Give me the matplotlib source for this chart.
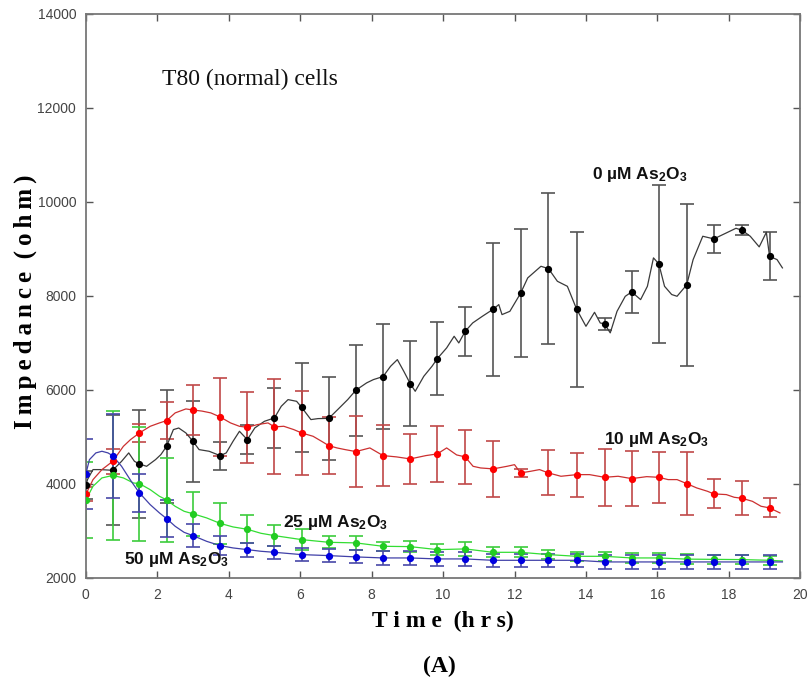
import matplotlib
matplotlib.use("Agg")
import matplotlib.pyplot as plt

plt.rcParams['mathtext.fontset'] = 'custom'
plt.rcParams['mathtext.rm'] = 'Liberation Sans:bold'
plt.rcParams['mathtext.it'] = 'Liberation Sans:bold'
plt.rcParams['mathtext.bf'] = 'Liberation Sans:bold'
plt.rcParams['mathtext.default'] = 'rm'

# ---- marker times (hrs) shared by all series ----
t_marks = [0, 0.75, 1.5, 2.26, 3.0, 3.76, 4.52, 5.28, 6.04, 6.8, 7.56, 8.32, 9.08,
           9.84, 10.62, 11.4, 12.17, 12.95, 13.74, 14.52, 15.28, 16.04, 16.82,
           17.58, 18.37, 19.14]

# ---- 0 uM (black) ----
black_mark = [3970, 4290, 4425, 4800, 4905, 4602, 4942, 5405, 5630, 5395, 5995, 6285,
              6135, 6667, 7248, 7716, 8057, 8582, 7716, 7405, 8086, 8682, 8235,
              9214, 9397, 8844]
black_err = [300, 1170, 1150, 1200, 870, 300, 310, 640, 940, 880, 970, 1120,
             900, 780, 520, 1420, 1360, 1600, 1650, 125, 440, 1680, 1720,
             300, 110, 510]
black_t = [0, 0.05, 0.2, 0.4, 0.75, 1.0, 1.2, 1.36, 1.5, 1.7, 1.95, 2.1, 2.26, 2.45,
           2.6, 2.8, 3.0, 3.17, 3.45, 3.76, 3.93, 4.12, 4.3, 4.52, 4.73, 5.0, 5.28,
           5.47, 5.66, 5.9, 6.04, 6.3, 6.5, 6.8, 7.05, 7.33, 7.56, 7.86, 8.05, 8.32,
           8.53, 8.72, 8.9, 9.08, 9.22, 9.46, 9.69, 9.84, 10.1, 10.31, 10.44, 10.62,
           10.83, 11.1, 11.4, 11.56, 11.65, 11.87, 12.17, 12.37, 12.74, 12.95, 13.2,
           13.48, 13.74, 14.0, 14.24, 14.4, 14.52, 14.68, 14.87, 15.1, 15.28, 15.53,
           15.72, 15.89, 16.04, 16.2, 16.4, 16.55, 16.82, 17.0, 17.27, 17.58, 17.93,
           18.2, 18.37, 18.6, 18.85, 19.05, 19.14, 19.35, 19.5]
black_v = [3970, 4100, 4305, 4305, 4290, 4481, 4660, 4481, 4425, 4375, 4517, 4624, 4800,
           5156, 5190, 5085, 4905, 4730, 4695, 4602, 4660, 4907, 5120, 4942, 5192,
           5333, 5405, 5652, 5794, 5758, 5630, 5369, 5390, 5395, 5582, 5794, 5995,
           6150, 6220, 6285, 6503, 6645, 6397, 6135, 5971, 6290, 6503, 6667, 6894,
           7142, 7000, 7248, 7426, 7567, 7716, 7816, 7603, 7673, 8057, 8384, 8631,
           8582, 8312, 8205, 7716, 7354, 7652, 7425, 7405, 7214, 7673, 7992, 8086,
           7922, 8205, 8810, 8682, 8205, 8030, 7993, 8235, 8773, 9270, 9214, 9341,
           9440, 9397, 9270, 9044, 9354, 8844, 8773, 8597]

# ---- 10 uM (red) ----
red_mark = [3780, 4480, 5085, 5347, 5573, 5424, 5205, 5213, 5085, 4815, 4688, 4603,
            4532, 4639, 4575, 4320, 4234, 4234, 4198, 4141, 4113, 4141, 4007,
            3788, 3694, 3490]
red_err = [150, 270, 200, 400, 540, 830, 750, 1010, 900, 600, 750, 650,
           530, 600, 575, 590, 80, 480, 470, 610, 590, 540, 670,
           310, 360, 200]
red_t = [0, 0.2, 0.45, 0.75, 1.05, 1.25, 1.5, 1.8, 2.06, 2.26, 2.5, 2.8, 3.0, 3.25,
         3.5, 3.76, 4.05, 4.3, 4.52, 4.8, 5.1, 5.28, 5.54, 5.82, 6.04, 6.36, 6.6,
         6.8, 7.03, 7.26, 7.56, 7.95, 8.32, 8.7, 9.08, 9.52, 9.84, 10.1, 10.38,
         10.62, 10.84, 11.05, 11.4, 11.79, 12.0, 12.17, 12.45, 12.7, 12.95, 13.3,
         13.74, 14.1, 14.52, 14.9, 15.28, 15.7, 16.04, 16.3, 16.55, 16.82, 17.1,
         17.4, 17.58, 17.93, 18.15, 18.37, 18.66, 18.9, 19.14, 19.43]
red_v = [3780, 4092, 4305, 4480, 4800, 4943, 5085, 5226, 5298, 5347, 5511, 5596,
         5573, 5550, 5511, 5424, 5298, 5226, 5205, 5262, 5298, 5213, 5227, 5156,
         5085, 5014, 4907, 4815, 4766, 4730, 4688, 4766, 4603, 4575, 4532, 4603,
         4639, 4766, 4617, 4575, 4375, 4340, 4320, 4375, 4410, 4234, 4269, 4305,
         4234, 4163, 4198, 4198, 4141, 4163, 4113, 4155, 4141, 4092, 4092, 4007,
         3915, 3844, 3788, 3773, 3716, 3694, 3630, 3525, 3490, 3383]

# ---- 25 uM (green) ----
green_mark = [3660, 4180, 4006, 3660, 3365, 3160, 3035, 2900, 2815, 2758, 2745, 2673,
              2666, 2602, 2617, 2545, 2545, 2496, 2460, 2460, 2425, 2425, 2400,
              2395, 2390, 2375]
green_err = [800, 1370, 1210, 900, 470, 430, 300, 220, 230, 130, 150, 100,
             110, 120, 140, 110, 110, 100, 100, 100, 100, 100, 100,
             100, 100, 100]
green_t = [0, 0.2, 0.45, 0.75, 1.05, 1.33, 1.5, 1.8, 2.06, 2.26, 2.5, 2.75, 3.0, 3.38,
           3.76, 4.12, 4.52, 4.9, 5.28, 6.04, 6.8, 7.56, 8.32, 9.08, 9.84, 10.62,
           11.4, 12.17, 12.95, 13.74, 14.52, 15.28, 16.04, 16.82, 17.58, 18.37,
           19.14, 19.5]
green_v = [3660, 3950, 4128, 4180, 4128, 4021, 4006, 3879, 3737, 3660, 3524, 3418,
           3365, 3277, 3160, 3085, 3035, 2950, 2900, 2815, 2758, 2745, 2673, 2666,
           2602, 2617, 2545, 2545, 2496, 2460, 2460, 2425, 2425, 2400, 2395, 2390,
           2375, 2360]

# ---- 50 uM (blue) ----
blue_mark = [4213, 4600, 3809, 3262, 2900, 2687, 2602, 2545, 2496, 2475, 2447, 2425,
             2425, 2404, 2404, 2375, 2375, 2375, 2375, 2340, 2340, 2340, 2340,
             2340, 2340, 2340]
blue_err = [740, 890, 410, 400, 250, 200, 150, 140, 140, 130, 140, 140,
            140, 140, 140, 140, 140, 140, 140, 140, 140, 150, 150,
            150, 150, 150]
blue_t = [0, 0.1, 0.28, 0.45, 0.62, 0.75, 1.0, 1.27, 1.5, 1.8, 2.06, 2.26, 2.5, 2.75,
          3.0, 3.38, 3.76, 4.12, 4.52, 4.9, 5.28, 6.04, 6.8, 7.56, 8.32, 9.08, 9.84,
          10.62, 11.4, 12.17, 12.95, 13.74, 14.52, 15.28, 16.04, 16.82, 17.58,
          18.37, 19.14, 19.5]
blue_v = [4213, 4517, 4660, 4695, 4660, 4600, 4375, 4056, 3809, 3560, 3383, 3262,
          3099, 2970, 2900, 2779, 2687, 2638, 2602, 2567, 2545, 2496, 2475, 2447,
          2425, 2425, 2404, 2404, 2375, 2375, 2375, 2375, 2340, 2340, 2340, 2340,
          2340, 2340, 2340, 2340]

series = [
    # trace t, trace v, marks, errs, line color, marker color, bar color
    (black_t, black_v, black_mark, black_err, '#3a3a3a', '#000000', '#555555'),
    (red_t, red_v, red_mark, red_err, '#cc3030', '#ff0000', '#c04848'),
    (green_t, green_v, green_mark, green_err, '#33dd33', '#22cc22', '#3ccc3c'),
    (blue_t, blue_v, blue_mark, blue_err, '#4040a8', '#0000e0', '#4848a8'),
]

labels = [r'0 µM As$_2$O$_3$', r'10 µM As$_2$O$_3$',
          r'25 µM As$_2$O$_3$', r'50 µM As$_2$O$_3$']
label_pos = [(14.17, 10576), (14.5, 4937), (5.51, 3177), (1.06, 2398)]

fig = plt.figure(figsize=(8.1, 6.88), dpi=100)
ax = fig.add_axes([0.106, 0.160, 0.882, 0.8197])

for tt, vv, mk, er, lc, mc, bc in series:
    ax.plot(tt, vv, color=lc, lw=0.9, zorder=3)
    ax.errorbar(t_marks, mk, yerr=er, fmt='none', ecolor=bc, elinewidth=1.2,
                capsize=5, capthick=1.2, zorder=2)
    ax.plot(t_marks, mk, 'o', color=mc, ms=4.2, zorder=4)

for lab, (x, y) in zip(labels, label_pos):
    ax.text(x, y, lab, fontsize=12.5, fontweight='bold', family='Liberation Sans',
            color='#111111', ha='left', va='center', zorder=5)

ax.text(2.13, 12600, 'T80 (normal) cells', fontsize=17, family='Liberation Serif',
        color='#111111', ha='left', va='center')

ax.set_xlim(0, 20)
ax.set_ylim(2000, 14000)
ax.set_xticks(range(0, 21, 2))
ax.set_yticks(range(2000, 14001, 2000))
ax.tick_params(direction='in', length=5, width=1, color='#555555', top=True,
               right=True, labelsize=10, labelcolor='#444444', pad=7)
for lab in ax.get_xticklabels() + ax.get_yticklabels():
    lab.set_family('Liberation Sans')
for sp in ax.spines.values():
    sp.set_color('#777777')
    sp.set_linewidth(1.3)

thin = '\u2009'
ax.set_xlabel('T i m e  (h r s)', fontsize=17, fontweight='bold',
              family='Liberation Serif', labelpad=7)
ax.set_ylabel(thin.join('Impedance') + '  ' + thin.join('(ohm)'), fontsize=18,
              fontweight='bold', family='Liberation Serif')
ax.yaxis.set_label_coords(-0.068, 0.49)
fig.text(0.543, 0.031, '(A)', fontsize=17, fontweight='bold',
         family='Liberation Serif', ha='center', va='center')

fig.savefig('out.png', dpi=100)
